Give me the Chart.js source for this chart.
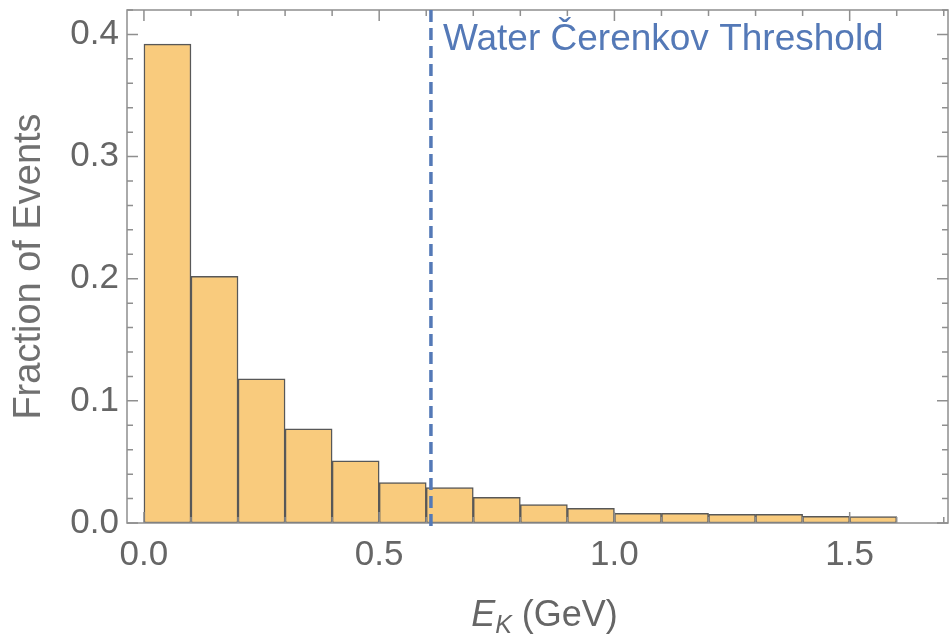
<!DOCTYPE html>
<html>
<head>
<meta charset="utf-8">
<script src="https://cdn.jsdelivr.net/npm/chart.js@4/dist/chart.umd.min.js"></script>
<style>
  html, body { margin: 0; padding: 0; background: #fff; }
  #wrap { width: 949px; height: 637px; }
</style>
</head>
<body>
<div id="wrap"><canvas id="hist"></canvas></div>
<script>
// histogram bins (GeV) and fraction of events in each
const binStarts = [0.0, 0.1, 0.2, 0.3, 0.4, 0.5, 0.6, 0.7, 0.8, 0.9, 1.0, 1.1, 1.2, 1.3, 1.4, 1.5];
const binWidth = 0.1;
const fractions = [0.392, 0.202, 0.118, 0.077, 0.051, 0.033, 0.029, 0.021, 0.015, 0.012, 0.008, 0.008, 0.007, 0.007, 0.0055, 0.0052];
const xTicks = [0.0, 0.5, 1.0, 1.5];
const yTicks = [0.0, 0.1, 0.2, 0.3, 0.4];
const threshold = 0.61;
const thresholdLabel = 'Water Čerenkov Threshold';

const FONT = '"Liberation Sans", Arial, sans-serif';
const GRAY = '#666666';
const BLUE = '#5479b7';

// Mathematica-style frame with inward ticks on all four sides
const framePlugin = {
  id: 'frame',
  afterDatasetsDraw(chart) {
    const { ctx, chartArea: a, scales: { x, y } } = chart;
    ctx.save();
    ctx.strokeStyle = '#8f8f8f';
    ctx.lineWidth = 1.5;
    ctx.strokeRect(a.left, a.top, a.right - a.left, a.bottom - a.top);

    ctx.beginPath();
    for (let v = 0; v <= 1.7001; v += 0.1) {
      const px = x.getPixelForValue(v);
      const major = Math.abs(v / 0.5 - Math.round(v / 0.5)) < 1e-6;
      const len = major ? 11 : 6;
      ctx.moveTo(px, a.bottom); ctx.lineTo(px, a.bottom - len);
      ctx.moveTo(px, a.top); ctx.lineTo(px, a.top + len);
    }
    for (let v = 0; v <= 0.4201; v += 0.02) {
      const py = y.getPixelForValue(v);
      const major = Math.abs(v / 0.1 - Math.round(v / 0.1)) < 1e-6;
      const len = major ? 11 : 6;
      ctx.moveTo(a.left, py); ctx.lineTo(a.left + len, py);
      ctx.moveTo(a.right, py); ctx.lineTo(a.right - len, py);
    }
    ctx.stroke();

    // threshold line and its label
    const tx = x.getPixelForValue(threshold);
    ctx.strokeStyle = BLUE;
    ctx.lineWidth = 3.5;
    ctx.setLineDash([12, 6]);
    ctx.beginPath();
    ctx.moveTo(tx, a.top);
    ctx.lineTo(tx, a.bottom + 8);
    ctx.stroke();
    ctx.setLineDash([]);
    ctx.fillStyle = BLUE;
    ctx.font = '37px ' + FONT;
    ctx.textBaseline = 'alphabetic';
    ctx.textAlign = 'left';
    ctx.fillText(thresholdLabel, tx + 12, a.top + 40);

    // x axis title: E_K (GeV)
    ctx.fillStyle = GRAY;
    const big = 'italic 36px ' + FONT, sub = 'italic 25px ' + FONT, rest = '36px ' + FONT;
    ctx.font = big; const wE = ctx.measureText('E').width;
    ctx.font = sub; const wK = ctx.measureText('K').width;
    ctx.font = rest; const wR = ctx.measureText(' (GeV)').width;
    let sx = (a.left + a.right) / 2 + 7 - (wE + wK + wR) / 2;
    const base = 626;
    ctx.font = big; ctx.fillText('E', sx, base); sx += wE;
    ctx.font = sub; ctx.fillText('K', sx, base + 7); sx += wK;
    ctx.font = rest; ctx.fillText(' (GeV)', sx, base);
    ctx.restore();
  }
};

new Chart(document.getElementById('hist'), {
  type: 'bar',
  data: {
    datasets: [{
      data: binStarts.map((s, i) => ({ x: s + binWidth / 2, y: fractions[i] })),
      backgroundColor: '#f9cb7d',
      borderColor: '#585858',
      borderWidth: 1.5,
      borderSkipped: false,
      barPercentage: 1,
      categoryPercentage: 1
    }]
  },
  options: {
    responsive: true,
    maintainAspectRatio: false,
    animation: false,
    layout: { padding: { top: 10, right: 1, left: 0, bottom: 0 } },
    plugins: { legend: { display: false }, tooltip: { enabled: false } },
    scales: {
      x: {
        type: 'linear',
        offset: false,
        min: -0.036,
        max: 1.709,
        afterFit: s => { s.height = 114; s.paddingLeft = 0; s.paddingRight = 0; },
        afterBuildTicks: s => { s.ticks = xTicks.map(v => ({ value: v })); },
        grid: { display: false, drawTicks: false },
        border: { display: false },
        ticks: {
          padding: 11,
          color: GRAY,
          font: { size: 35, family: FONT },
          callback: v => v.toFixed(1)
        }
      },
      y: {
        min: 0,
        max: 0.42,
        afterFit: s => { s.width = 127; s.paddingTop = 0; s.paddingBottom = 0; },
        afterBuildTicks: s => { s.ticks = yTicks.map(v => ({ value: v })); },
        grid: { display: false, drawTicks: false },
        border: { display: false },
        ticks: {
          padding: 8,
          color: GRAY,
          font: { size: 35, family: FONT },
          callback: v => v.toFixed(1)
        },
        title: {
          display: true,
          text: 'Fraction of Events',
          color: '#707070',
          font: { size: 38, family: FONT },
          padding: { top: 7, bottom: 0 }
        }
      }
    }
  },
  plugins: [framePlugin]
});
</script>
</body>
</html>
